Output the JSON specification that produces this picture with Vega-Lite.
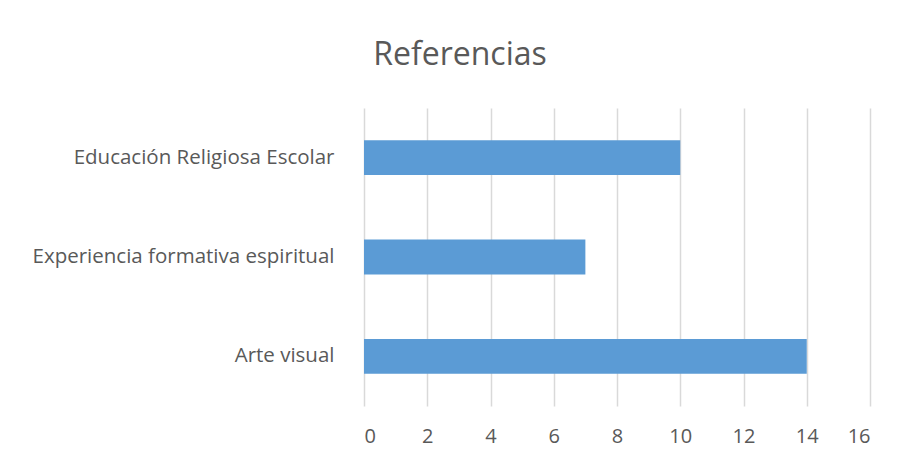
{
  "$schema": "https://vega.github.io/schema/vega-lite/v6.json",
  "autosize": "none",
  "width": 506,
  "height": 298,
  "padding": {"left": 364, "top": 108, "right": 28, "bottom": 57},
  "background": "white",
  "title": {
    "text": "Referencias",
    "anchor": "middle",
    "frame": "group",
    "dx": -157,
    "offset": 36,
    "fontSize": 32,
    "font": "Open Sans",
    "fontWeight": "normal",
    "color": "#595959"
  },
  "data": {
    "values": [
      {"categoria": "Educación Religiosa Escolar", "valor": 10},
      {"categoria": "Experiencia formativa espiritual", "valor": 7},
      {"categoria": "Arte visual", "valor": 14}
    ]
  },
  "mark": {"type": "bar", "color": "#5b9bd5"},
  "encoding": {
    "y": {
      "field": "categoria",
      "type": "nominal",
      "sort": null,
      "scale": {"paddingInner": 0.65, "paddingOuter": 0.325},
      "axis": {
        "title": null,
        "domain": false,
        "ticks": false,
        "grid": false,
        "labelPadding": 30,
        "labelFont": "Open Sans",
        "labelFontSize": 20.5,
        "labelColor": "#595959",
        "labelLimit": 400
      }
    },
    "x": {
      "field": "valor",
      "type": "quantitative",
      "scale": {"domain": [0, 16], "nice": false},
      "axis": {
        "title": null,
        "values": [0, 2, 4, 6, 8, 10, 12, 14, 16],
        "domain": false,
        "ticks": false,
        "grid": true,
        "gridColor": "#d9d9d9",
        "gridWidth": 1.5,
        "labelPadding": 20,
        "labelFont": "Open Sans",
        "labelFontSize": 20,
        "labelColor": "#595959"
      }
    }
  },
  "config": {"view": {"stroke": null}}
}
